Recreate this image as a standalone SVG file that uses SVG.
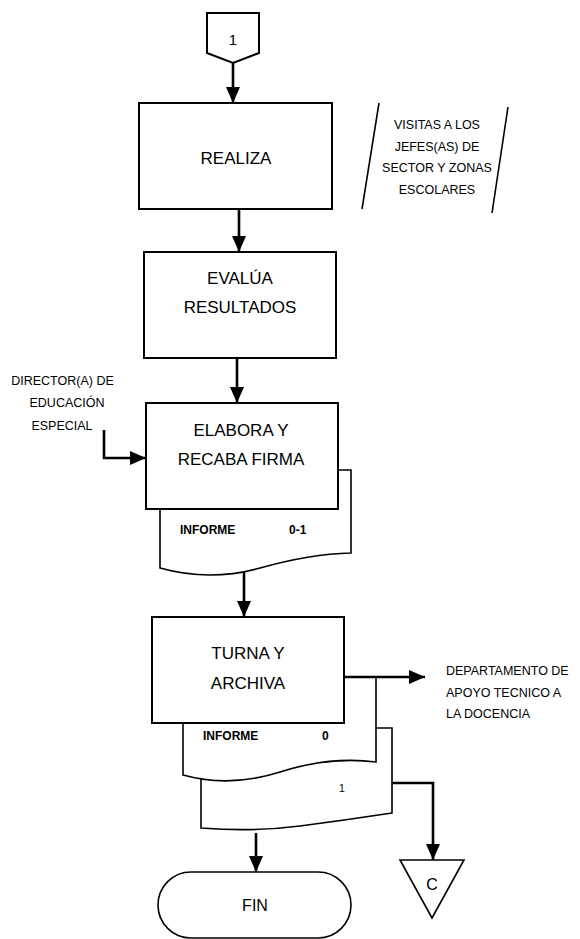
<svg xmlns="http://www.w3.org/2000/svg" width="580" height="939" viewBox="0 0 580 939">
<style>
.s{fill:#fff;stroke:#000;stroke-width:2}
.d{fill:#fff;stroke:#000;stroke-width:1.6}
.f{fill:#fff;stroke:none}
.l{fill:none;stroke:#000;stroke-width:1.6}
.a{fill:none;stroke:#000;stroke-width:2.6}
text{font-family:"Liberation Sans",Arial,sans-serif;fill:#000}
.t{font-size:17px;text-anchor:middle}
.m{font-size:12.5px}
.c{font-size:12.5px;text-anchor:middle}
.b{font-size:12px;font-weight:bold}
</style>
<defs>
<marker id="ah" markerUnits="userSpaceOnUse" markerWidth="16" markerHeight="16" viewBox="0 0 16 16" refX="16" refY="8" orient="auto">
<path d="M0,1 L16,8 L0,15 Z" fill="#000"/>
</marker>
</defs>
<rect width="580" height="939" fill="#fff"/>

<g id="connectors">
<line class="a" x1="233" y1="63" x2="233" y2="103" marker-end="url(#ah)"/>
<line class="a" x1="239" y1="209" x2="239" y2="252" marker-end="url(#ah)"/>
<line class="a" x1="237" y1="358" x2="237" y2="403" marker-end="url(#ah)"/>
<path class="a" d="M104,430 V458 H146" marker-end="url(#ah)"/>
<line class="a" x1="244" y1="572" x2="244" y2="617" marker-end="url(#ah)"/>
<path class="a" d="M344,677 H425" marker-end="url(#ah)"/>
<path class="a" d="M392,783 H433 V860" marker-end="url(#ah)"/>
<line class="a" x1="256" y1="833" x2="256" y2="872" marker-end="url(#ah)"/>
</g>

<g id="start-connector">
<polygon class="s" points="207,13 259,13 259,53 233,63 207,53"/>
<text x="233" y="45" style="font-size:15px;text-anchor:middle">1</text>
</g>

<g id="realiza">
<rect class="s" x="139" y="103" width="193" height="106"/>
<text class="t" x="236" y="164">REALIZA</text>
</g>

<g id="visitas">
<line class="l" x1="379" y1="103" x2="362" y2="209"/>
<line class="l" x1="508" y1="107" x2="492" y2="213"/>
<text class="c" x="437" y="129">VISITAS A LOS</text>
<text class="c" x="437" y="151">JEFES(AS) DE</text>
<text class="c" x="437" y="172">SECTOR Y ZONAS</text>
<text class="c" x="437" y="194">ESCOLARES</text>
</g>

<g id="evalua">
<rect class="s" x="144" y="252" width="192" height="106"/>
<text class="t" x="240" y="284">EVALÚA</text>
<text class="t" x="240" y="313">RESULTADOS</text>
</g>

<g id="director">
<text class="c" x="62.5" y="385">DIRECTOR(A) DE</text>
<text class="c" x="67" y="407">EDUCACIÓN</text>
<text class="c" x="62" y="430">ESPECIAL</text>
</g>

<g id="informe-01">
<path class="d" d="M160,509 V568 Q210,582 260,568 T351,553 V470 H338"/>
<text class="b" x="180" y="534">INFORME</text>
<text class="b" x="289" y="534">0-1</text>
</g>

<g id="elabora">
<rect class="s" x="146" y="403" width="192" height="106"/>
<text class="t" x="241" y="436">ELABORA Y</text>
<text class="t" x="241" y="465">RECABA FIRMA</text>
</g>

<g id="informe-1">
<path class="f" d="M376,728 H392 V813 Q346,820 300,826 T201,828 V770 H376 Z"/>
<path class="l" d="M376,728 H392 V813 Q346,820 300,826 T201,828 V778"/>
<text x="339" y="792" style="font-size:10.5px">1</text>
</g>

<g id="informe-0">
<path class="f" d="M183,723 V775 Q230,788 280,772 T376,762 V723 Z"/>
<path class="l" d="M183,723 V775 Q230,788 280,772 T376,762 V677"/>
<text class="b" x="203" y="740">INFORME</text>
<text class="b" x="322" y="740">0</text>
</g>

<g id="turna">
<rect class="s" x="152" y="617" width="192" height="106"/>
<text class="t" x="248" y="659">TURNA Y</text>
<text class="t" x="248" y="689">ARCHIVA</text>
</g>

<g id="departamento">
<text class="m" x="446" y="675">DEPARTAMENTO DE</text>
<text class="m" x="446" y="697">APOYO TECNICO A</text>
<text class="m" x="446" y="718">LA DOCENCIA</text>
</g>

<g id="fin">
<rect class="d" x="158" y="872" width="193" height="66" rx="33"/>
<text x="255" y="911" style="font-size:16px;text-anchor:middle">FIN</text>
</g>

<g id="connector-c">
<polygon class="d" points="400,860 464,860 432,918"/>
<text x="432" y="890" style="font-size:16px;text-anchor:middle">C</text>
</g>
</svg>
